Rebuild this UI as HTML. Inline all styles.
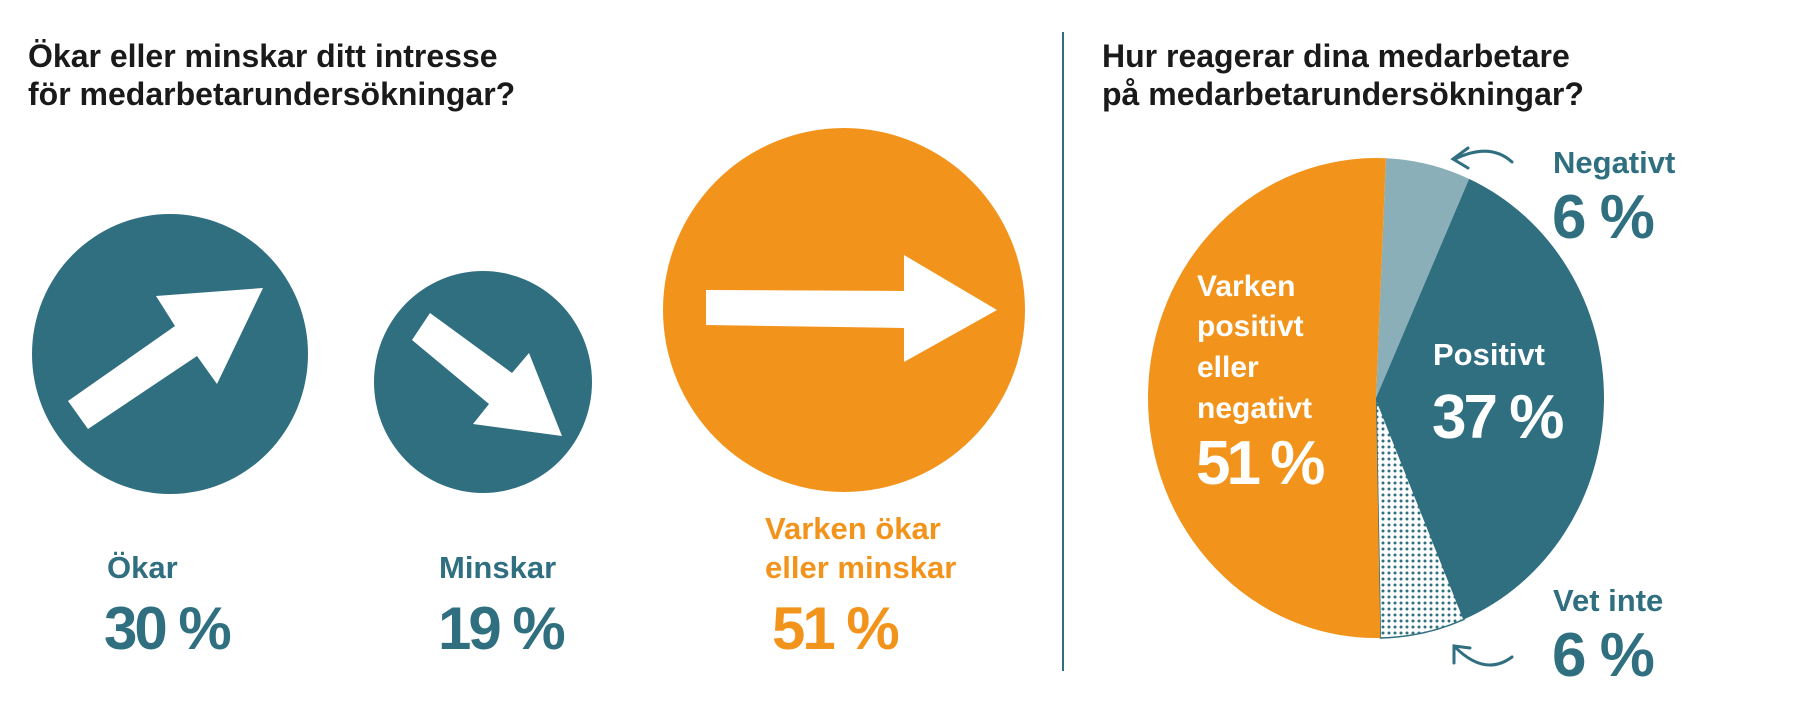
<!DOCTYPE html>
<html><head><meta charset="utf-8"><style>
html,body{margin:0;padding:0;background:#fff;}
svg{display:block;font-family:"Liberation Sans",Arial,sans-serif;font-weight:bold;}
</style></head><body>
<svg width="1800" height="727" viewBox="0 0 1800 727">
<defs>
<pattern id="dots" width="6" height="6" patternUnits="userSpaceOnUse">
<rect width="6" height="6" fill="#fff"/><circle cx="3" cy="3" r="1.5" fill="#2f6f80"/>
</pattern>
</defs>
<g fill="#1a1a1a" font-size="32">
<text x="28" y="67">Ökar eller minskar ditt intresse</text>
<text x="28" y="105">för medarbetarundersökningar?</text>
</g>
<g>
<ellipse cx="170" cy="354" rx="138" ry="140" fill="#2f6f80"/>
<polygon points="88,429 197,356 217,384 263,288 156,296 175,326 68,401" fill="#fff"/>
</g>
<g>
<ellipse cx="483" cy="382" rx="109" ry="111" fill="#2f6f80"/>
<polygon points="412,340 430,313 512,373 529,353 562,436 473,424 489,404" fill="#fff"/>
</g>
<g>
<ellipse cx="844" cy="310" rx="181" ry="182" fill="#f2941b"/>
<polygon points="706,290 904,291 904,255 997,310 904,362 904,328 706,325" fill="#fff"/>
</g>
<g fill="#2f6f80">
<text x="107" y="578" font-size="31">Ökar</text>
<text x="104" y="649" font-size="60" letter-spacing="-3">30 %</text>
</g>
<g fill="#2f6f80">
<text x="439" y="578" font-size="31">Minskar</text>
<text x="438" y="649" font-size="60" letter-spacing="-3">19 %</text>
</g>
<g fill="#f2941b">
<text x="765" y="539" font-size="31">Varken ökar</text>
<text x="765" y="578" font-size="31">eller minskar</text>
<text x="772" y="649" font-size="60" letter-spacing="-3">51 %</text>
</g>
<line x1="1063" y1="32" x2="1063" y2="671" stroke="#2f6f80" stroke-width="2"/>
<g fill="#1a1a1a" font-size="32">
<text x="1102" y="67">Hur reagerar dina medarbetare</text>
<text x="1102" y="105">på medarbetarundersökningar?</text>
</g>
<g id="pie"></g>
<g>
<g fill="#2f6f80">
<text x="1553" y="173" font-size="31">Negativt</text>
<text x="1552" y="238" font-size="62" letter-spacing="-2">6 %</text>
<text x="1553" y="611" font-size="31">Vet inte</text>
<text x="1552" y="676" font-size="62" letter-spacing="-2">6 %</text>
</g>
<g fill="#fff">
<text x="1433" y="365" font-size="31">Positivt</text>
<text x="1432" y="438" font-size="62" letter-spacing="-3">37 %</text>
<text x="1197" y="296" font-size="30">Varken</text>
<text x="1197" y="336" font-size="30">positivt</text>
<text x="1197" y="377" font-size="30">eller</text>
<text x="1197" y="418" font-size="30">negativt</text>
<text x="1196" y="484" font-size="62" letter-spacing="-4">51 %</text>
</g>
</g>
<g fill="none" stroke="#2f6f80" stroke-width="3" stroke-linecap="round">
<path d="M1512,162 Q1490,142 1455,159"/><path d="M1468,148 L1453,159 L1468,168"/>
<path d="M1512,657 Q1485,677 1455,647"/><path d="M1454,663 L1454,646 L1470,648"/>
</g>
<script>
const pieCategories = ["Negativt","Positivt","Vet inte","Varken positivt eller negativt"];
const pieValues = [6, 37, 6, 51];
const pieFills = ["#8aafb8","#2f6f80","url(#dots)","#f2941b"];
const cx = 1376, cy = 398, rx = 228, ry = 240, startDeg = 2.5;
const g = document.getElementById('pie');
const total = pieValues.reduce((a,b)=>a+b,0);
function pt(deg){const a=(deg-90)*Math.PI/180;return [cx+rx*Math.cos(a), cy+ry*Math.sin(a)];}
let acc = startDeg;
pieValues.forEach((v,i)=>{
  const sweep = v/total*360;
  const [x1,y1]=pt(acc),[x2,y2]=pt(acc+sweep);
  const p=document.createElementNS('http://www.w3.org/2000/svg','path');
  p.setAttribute('d',`M${cx},${cy} L${x1},${y1} A${rx},${ry} 0 ${sweep>180?1:0} 1 ${x2},${y2} Z`);
  p.setAttribute('fill',pieFills[i]);
  if(i===2){p.setAttribute('stroke','#2f6f80');p.setAttribute('stroke-width','1.5');}
  
  
  g.appendChild(p);
  acc += sweep;
});
</script>
</svg>
</body></html>
